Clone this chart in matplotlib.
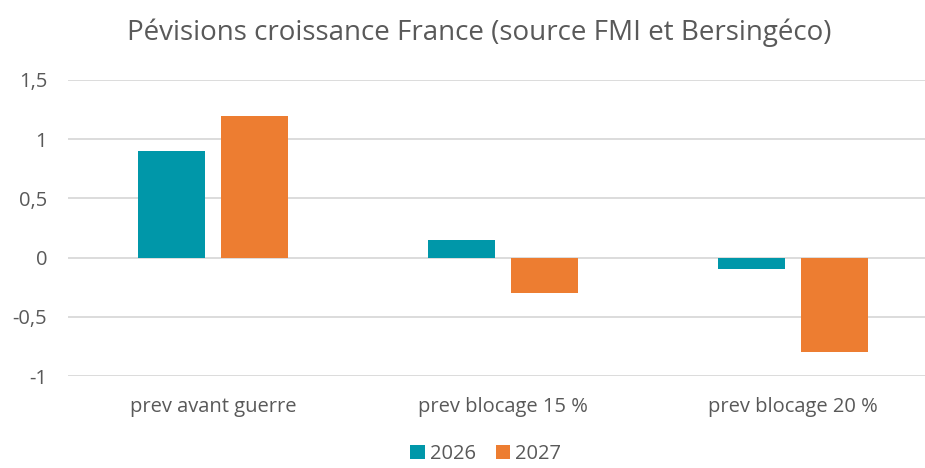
import matplotlib.pyplot as plt
import numpy as np

categories = ['prev avant guerre', 'prev blocage 15 %', 'prev blocage 20 %']
series_names = ['2026', '2027']
values_2026 = [0.9, 0.15, -0.1]
values_2027 = [1.2, -0.3, -0.8]
yticks = [-1, -0.5, 0, 0.5, 1, 1.5]
ytick_labels = ['-1', '-0,5', '0', '0,5', '1', '1,5']

teal = '#0097A9'
orange = '#ED7D31'
textcol = '#595959'
gridcol = '#D9D9D9'

plt.rcParams['font.family'] = ['Open Sans', 'DejaVu Sans']

fig = plt.figure(figsize=(9.25, 4.68), dpi=100)
ax = fig.add_axes([68 / 925, (468 - 376) / 468, (925 - 68) / 925, 296 / 468])

x = np.arange(len(categories))
w = 0.23
off = 0.142
ax.bar(x - off, values_2026, w, color=teal, label=series_names[0], zorder=3)
ax.bar(x + off, values_2027, w, color=orange, label=series_names[1], zorder=3)

ax.set_ylim(-1, 1.5)
ax.set_xlim(-0.5, 2.5 - 13 / 290)
ax.set_yticks(yticks)
ax.set_yticklabels(ytick_labels)
ax.set_xticks(x)
ax.set_xticklabels(categories)
ax.yaxis.grid(True, color=gridcol, linewidth=1.3, zorder=0)
ax.tick_params(axis='both', length=0, labelsize=14.5, labelcolor=textcol)
ax.tick_params(axis='x', pad=15)
ax.tick_params(axis='y', pad=15)
for s in ax.spines.values():
    s.set_visible(False)

fig.text(0.518, 0.93, 'Pévisions croissance France (source FMI et Bersingéco)',
         ha='center', va='center', fontsize=20, color=textcol)

fig.legend(loc='center', bbox_to_anchor=(0.525, 0.03), ncol=2, frameon=False,
           fontsize=14.5, labelcolor=textcol, handlelength=0.7, handleheight=0.7,
           handletextpad=0.25, columnspacing=1.0, borderpad=0.1)

fig.savefig('out.png', dpi=100)
